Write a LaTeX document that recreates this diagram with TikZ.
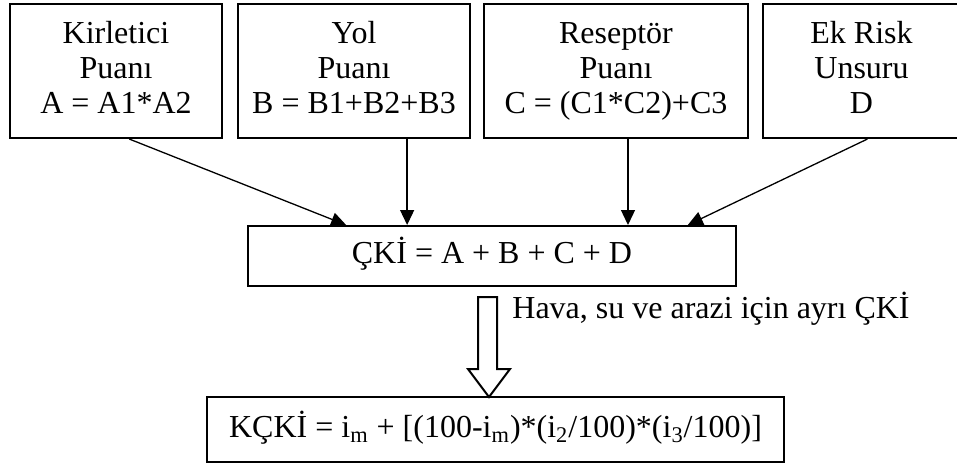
\documentclass[tikz,border=0pt]{standalone}
\usepackage{fontspec}
\setmainfont{Liberation Serif}
\usetikzlibrary{arrows.meta, positioning, calc}
\tikzset{
  scorebox/.style={draw=black, line width=1pt, align=center, inner sep=0pt,
    minimum height=67pt, font=\fontsize{16}{17.5}\selectfont},
  sumbox/.style={draw=black, line width=1pt, align=center, inner sep=0pt,
    font=\fontsize{16}{17.5}\selectfont},
  feed/.style={-{Triangle[length=7.5pt, width=7pt]}, line width=0.65pt, draw=black},
  hollowarrow/.style={draw=black, line width=1pt, fill=white, line join=miter},
  note/.style={font=\fontsize{16}{17.5}\selectfont, inner sep=0pt},
}

\begin{document}
\begin{tikzpicture}[node distance=6.5pt]
  \useasboundingbox (0,0) rectangle (478.5pt,-231.5pt);

  % ----------------------------------------------------------------
  % Top row: the four scores
  % ----------------------------------------------------------------
  \node[scorebox, minimum width=106pt, anchor=north west] (kirletici) at (4.5pt,-1.5pt)
    {\strut Kirletici\\ Puanı\\ A = A1*A2\strut};
  \node[scorebox, minimum width=116pt, right=7pt of kirletici] (yol)
    {\strut Yol\\ Puanı\\ B = B1+B2+B3\strut};
  \node[scorebox, minimum width=132pt, right=6pt of yol] (reseptor)
    {\strut Reseptör\\ Puanı\\ C = (C1*C2)+C3\strut};
  \node[scorebox, minimum width=98.5pt, right=6.5pt of reseptor] (ekrisk)
    {\strut Ek Risk\\ Unsuru\\ D\strut};

  % ----------------------------------------------------------------
  % Sum and combined index
  % ----------------------------------------------------------------
  \node[sumbox, minimum width=244pt, minimum height=30pt] (cki) at (246pt,-128pt)
    {\strut ÇKİ = A + B + C + D};
  \node[sumbox, minimum width=288.5pt, minimum height=32.5pt] (kcki) at (247.75pt,-214.75pt)
    {\strut KÇKİ = i\textsubscript{m} + [(100-i\textsubscript{m})*(i\textsubscript{2}/100)*(i\textsubscript{3}/100)]};

  % ----------------------------------------------------------------
  % Arrows
  % ----------------------------------------------------------------
  \draw[feed] (kirletici.-79) -- (cki.168);
  \draw[feed] (yol.-52) -- (yol.-52 |- cki.north);
  \draw[feed] (reseptor.-80.7) -- (reseptor.-80.7 |- cki.north);
  \draw[feed] (ekrisk.-85.3) -- (cki.9.6);

  \draw[hollowarrow] ($(cki.south)+(-7pt,-5pt)$) -- ++(9.5pt,0) -- ++(0,-36pt)
    -- ++(6.5pt,0) -- ++(-10.5pt,-14pt) -- ++(-10.5pt,14pt) -- ++(5pt,0) -- cycle;
  \node[note, anchor=base west] (ayri) at ($(cki.south)+(10pt,-15.5pt)$)
    {Hava, su ve arazi için ayrı ÇKİ};

\end{tikzpicture}
\end{document}
